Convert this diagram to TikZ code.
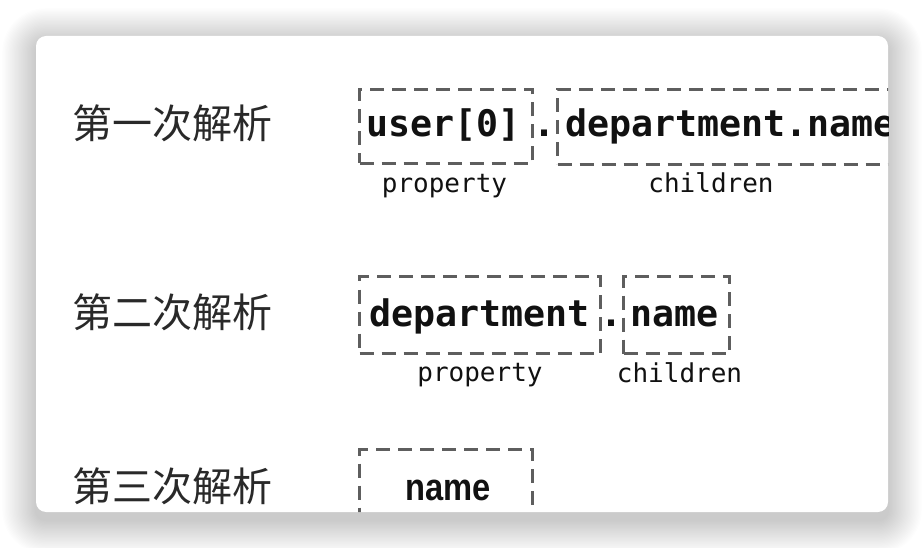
\documentclass[tikz,border=0pt]{standalone}
\usepackage{fontspec}
\newfontfamily\cjkfont{Noto Sans CJK SC}
\newfontfamily\monofont{DejaVu Sans Mono}
\newfontfamily\sansfontb{Liberation Sans}
\definecolor{dashgray}{HTML}{5E5E5E}
\definecolor{inkc}{HTML}{111111}
\begin{document}
\begin{tikzpicture}[x=1pt,y=-1pt,
  cnlabel/.style={font=\cjkfont\fontsize{40}{40}\selectfont, text=inkc!90, anchor=base west, inner sep=0pt},
  dbox/.style={draw=dashgray, line width=3pt, dash pattern=on 14pt off 8pt, anchor=north west, inner sep=0pt},
  codetxt/.style={font=\monofont\bfseries\fontsize{36.6}{36.6}\selectfont, text=inkc, anchor=base west, inner sep=0pt},
  lbl/.style={font=\monofont\fontsize{26}{26}\selectfont, text=inkc, anchor=base, inner sep=0pt},
  cardstyle/.style={fill=white, rounded corners=10pt}
]
\useasboundingbox (0,0) rectangle (924,548);
\fill[white] (0,0) rectangle (924,548);
% soft shadow
\foreach \i in {1,...,26} {
  \pgfmathsetmacro{\e}{1.3*\i}
  \pgfmathsetmacro{\r}{10+\e}
  \fill[black, opacity=0.006, rounded corners=\r pt] (36-\e,42-\e) rectangle (888+\e,520+\e);
}
\fill[cardstyle] (36,36) rectangle (888,512);
\begin{scope}
\clip[rounded corners=10pt] (36,36) rectangle (888,512);
% row labels
\node[cnlabel] (r1) at (72,139) {第一次解析};
\node[cnlabel] (r2) at (72,327) {第二次解析};
\node[cnlabel] (r3) at (72,501) {第三次解析};
% row 1
\node[dbox, minimum width=173pt, minimum height=74pt] (b1) at (358,88) {};
\node[dbox, minimum width=420pt, minimum height=75pt] (b2) at (556,88) {};
\node[codetxt] (t1) at (366,137) {user[0]};
\node[codetxt] (d1) at (533,137) {.};
\node[codetxt] (t2) at (565,137) {department.name};
\node[lbl] (p1) at (444.5,193) {property};
\node[lbl] (c1) at (711,193) {children};
% row 2
\node[dbox, minimum width=241pt, minimum height=77pt] (b3) at (358,275) {};
\node[dbox, minimum width=106pt, minimum height=77pt] (b4) at (622,275) {};
\node[codetxt] (t3) at (369,326) {department};
\node[codetxt] (d2) at (600,326) {.};
\node[codetxt] (t4) at (630,326) {name};
\node[lbl] (p2) at (480,381) {property};
\node[lbl] (c2) at (679.5,382) {children};
% row 3
\node[dbox, minimum width=173pt, minimum height=80pt] (b5) at (358,448) {};
\node[font=\sansfontb\bfseries\fontsize{38}{38}\selectfont, text=inkc, anchor=base, inner sep=0pt, xscale=0.86] (t5) at (448,500) {name};
\end{scope}
\end{tikzpicture}
\end{document}
